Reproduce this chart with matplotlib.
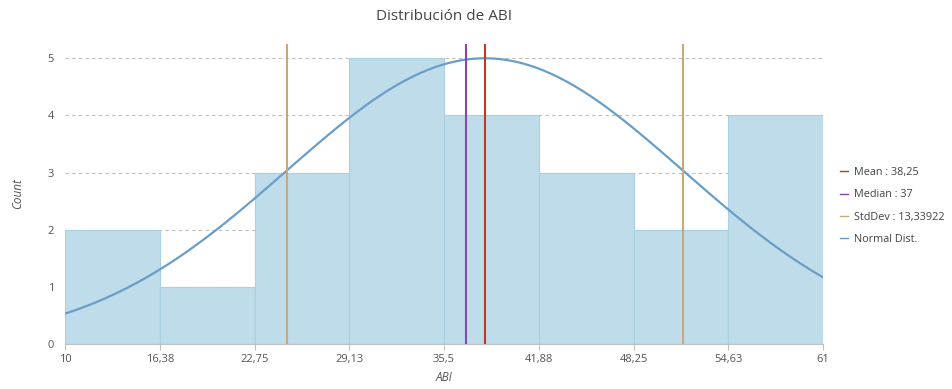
import numpy as np
import matplotlib.pyplot as plt

# ── Data ──────────────────────────────────────────────────────────────────────
bin_edges = [10, 16.375, 22.75, 29.125, 35.5, 41.875, 48.25, 54.625, 61]
tick_labels = ["10", "16,38", "22,75", "29,13", "35,5", "41,88", "48,25", "54,63", "61"]
counts = [2, 1, 3, 5, 4, 3, 2, 4]

mean_val = 38.25
median_val = 37
std_val = 13.33922

# ── Figure ────────────────────────────────────────────────────────────────────
plt.rcParams["font.family"] = ["Open Sans", "DejaVu Sans"]
fig = plt.figure(figsize=(9.52, 3.89), dpi=100)
ax = fig.add_axes([0.0683, 0.1157, 0.7962, 0.7712])

widths = np.diff(bin_edges)
ax.bar(bin_edges[:-1], counts, width=widths, align="edge",
       color="#bfdcea", edgecolor="#a9cfe2", linewidth=0.8, zorder=1)

# normal curve scaled to the tallest bin
xs = np.linspace(bin_edges[0], bin_edges[-1], 300)
ys = max(counts) * np.exp(-(xs - mean_val) ** 2 / (2 * std_val ** 2))
ax.plot(xs, ys, color="#6a9ec6", linewidth=1.6, zorder=3, label="Normal Dist.")

ax.axvline(mean_val, color="#c0392b", linewidth=1.5, zorder=4, label="Mean : 38,25")
ax.axvline(median_val, color="#8e44ad", linewidth=1.5, zorder=4, label="Median : 37")
ax.axvline(mean_val - std_val, color="#c8a878", linewidth=1.5, zorder=4,
           label="StdDev : 13,33922")
ax.axvline(mean_val + std_val, color="#c8a878", linewidth=1.5, zorder=4)

ax.set_xlim(bin_edges[0], bin_edges[-1])
ax.set_ylim(0, 5.25)
ax.set_xticks(bin_edges)
ax.set_xticklabels(tick_labels)
ax.set_yticks(range(0, 6))

for y in range(1, 6):
    ax.axhline(y, color="#bdbdbd", linestyle=(0, (3, 3)), linewidth=0.8, zorder=0.5)

for side in ["top", "right", "left"]:
    ax.spines[side].set_visible(False)
ax.spines["bottom"].set_color("#c0c0c0")
ax.tick_params(axis="x", colors="#c0c0c0", labelcolor="#555555", labelsize=8, length=4)
ax.tick_params(axis="y", length=0, labelcolor="#555555", labelsize=8, pad=8)

ax.set_xlabel("ABI", style="italic", color="#555555", fontsize=8.5)
ax.set_ylabel("Count", style="italic", color="#555555", fontsize=8.5, labelpad=17)
ax.set_title("Distribución de ABI", color="#444444", fontsize=11, pad=17)

handles, labels = ax.get_legend_handles_labels()
order = [1, 2, 3, 0]
leg = ax.legend([handles[i] for i in order], [labels[i] for i in order],
                loc="center left", bbox_to_anchor=(1.022, 0.46), frameon=False,
                borderpad=0, borderaxespad=0,
                fontsize=7.8, handlelength=0.8, handletextpad=0.5, labelspacing=1.05,
                labelcolor="#444444")
for line in leg.get_lines():
    line.set_linewidth(1.0)

fig.savefig("out.png", dpi=100)
